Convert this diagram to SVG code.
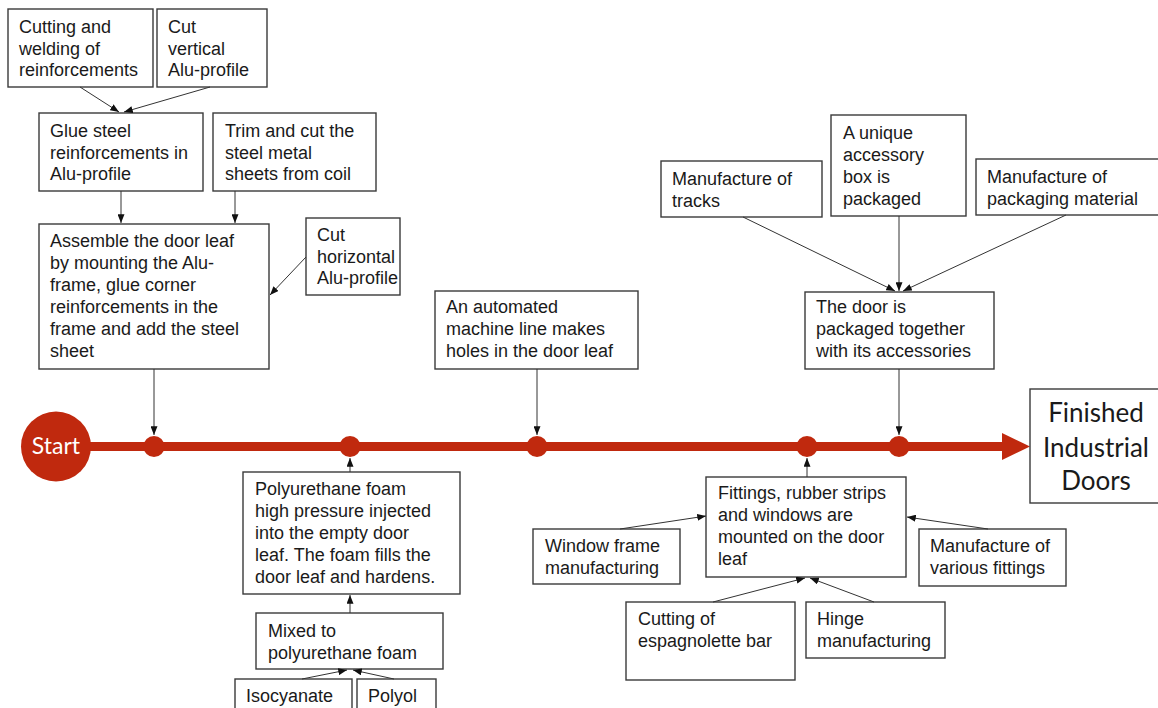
<svg xmlns="http://www.w3.org/2000/svg" width="1158" height="708" viewBox="0 0 1158 708">
<defs>
<marker id="ah" viewBox="0 0 10 8" refX="10" refY="4" markerWidth="9" markerHeight="7" markerUnits="userSpaceOnUse" orient="auto">
<path d="M0,0 L10,4 L0,8 Z" fill="#111"/>
</marker>
<style>
.box{fill:#fff;stroke:#3a3a3a;stroke-width:1.4}
.t{font-family:"Liberation Sans",Arial,sans-serif;font-size:18px;fill:#1a1a1a}
.c{stroke:#333;stroke-width:1;fill:none;marker-end:url(#ah)}
.red{fill:#C0290E}
.big{font-family:Lato,"Open Sans",sans-serif;font-size:26px;fill:#1a1a1a;text-anchor:middle}
</style>
</defs>
<rect width="1158" height="708" fill="#fff"/>

<g id="timeline">
<line x1="55" y1="446.5" x2="1004" y2="446.5" stroke="#C0290E" stroke-width="9"/>
<polygon class="red" points="1002,433 1030,446.5 1002,460"/>
<circle class="red" cx="154" cy="446.5" r="10.5"/>
<circle class="red" cx="350" cy="446.5" r="10.5"/>
<circle class="red" cx="537" cy="446.5" r="10.5"/>
<circle class="red" cx="807" cy="446.5" r="10.5"/>
<circle class="red" cx="899" cy="446.5" r="10.5"/>
</g>

<g id="start">
<circle class="red" cx="56" cy="446.5" r="35"/>
<text x="56" y="454" font-family="Lato,'Open Sans',sans-serif" font-size="23" fill="#fff" text-anchor="middle">Start</text>
</g>

<g id="n-cutweld">
<rect class="box" x="8" y="9" width="145" height="78"/>
<text class="t" x="19" y="33">Cutting and</text>
<text class="t" x="19" y="55">welding of</text>
<text class="t" x="19" y="76">reinforcements</text>
</g>
<g id="n-cutvert">
<rect class="box" x="157" y="9" width="110" height="78"/>
<text class="t" x="168" y="33">Cut</text>
<text class="t" x="168" y="55">vertical</text>
<text class="t" x="168" y="76">Alu-profile</text>
</g>
<g id="n-glue">
<rect class="box" x="39" y="113" width="164" height="78"/>
<text class="t" x="50" y="137">Glue steel</text>
<text class="t" x="50" y="159">reinforcements in</text>
<text class="t" x="50" y="180">Alu-profile</text>
</g>
<g id="n-trim">
<rect class="box" x="213" y="113" width="163" height="78"/>
<text class="t" x="225" y="137">Trim and cut the</text>
<text class="t" x="225" y="159">steel metal</text>
<text class="t" x="225" y="180">sheets from coil</text>
</g>
<g id="n-assemble">
<rect class="box" x="39" y="224" width="230" height="145"/>
<text class="t" x="50" y="247">Assemble the door leaf</text>
<text class="t" x="50" y="269">by mounting the Alu-</text>
<text class="t" x="50" y="291">frame, glue corner</text>
<text class="t" x="50" y="313">reinforcements in the</text>
<text class="t" x="50" y="335">frame and add the steel</text>
<text class="t" x="50" y="357">sheet</text>
</g>
<g id="n-cuthoriz">
<rect class="box" x="306" y="218" width="94" height="77"/>
<text class="t" x="317" y="241">Cut</text>
<text class="t" x="317" y="263">horizontal</text>
<text class="t" x="317" y="284">Alu-profile</text>
</g>
<g id="n-holes">
<rect class="box" x="435" y="291" width="203" height="78"/>
<text class="t" x="446" y="313">An automated</text>
<text class="t" x="446" y="335">machine line makes</text>
<text class="t" x="446" y="357">holes in the door leaf</text>
</g>
<g id="n-tracks">
<rect class="box" x="661" y="161" width="161" height="56"/>
<text class="t" x="672" y="185">Manufacture of</text>
<text class="t" x="672" y="207">tracks</text>
</g>
<g id="n-accbox">
<rect class="box" x="831" y="115" width="135" height="101"/>
<text class="t" x="843" y="139">A unique</text>
<text class="t" x="843" y="161">accessory</text>
<text class="t" x="843" y="183">box is</text>
<text class="t" x="843" y="205">packaged</text>
</g>
<g id="n-packmat">
<rect class="box" x="976" y="159" width="190" height="56"/>
<text class="t" x="987" y="183">Manufacture of</text>
<text class="t" x="987" y="205">packaging material</text>
</g>
<g id="n-packaged">
<rect class="box" x="805" y="292" width="189" height="77"/>
<text class="t" x="816" y="313">The door is</text>
<text class="t" x="816" y="335">packaged together</text>
<text class="t" x="816" y="357">with its accessories</text>
</g>
<g id="n-finished">
<rect class="box" x="1030" y="389" width="135" height="114"/>
<text class="big" x="1096" y="422">Finished</text>
<text class="big" x="1096" y="457">Industrial</text>
<text class="big" x="1096" y="490">Doors</text>
</g>
<g id="n-foam">
<rect class="box" x="243" y="472" width="217" height="122"/>
<text class="t" x="255" y="495">Polyurethane foam</text>
<text class="t" x="255" y="517">high pressure injected</text>
<text class="t" x="255" y="539">into the empty door</text>
<text class="t" x="255" y="561">leaf. The foam fills the</text>
<text class="t" x="255" y="583">door leaf and hardens.</text>
</g>
<g id="n-mixed">
<rect class="box" x="256" y="613" width="187" height="56"/>
<text class="t" x="268" y="637">Mixed to</text>
<text class="t" x="268" y="659">polyurethane foam</text>
</g>
<g id="n-iso">
<rect class="box" x="235" y="679" width="117" height="40"/>
<text class="t" x="246" y="702">Isocyanate</text>
</g>
<g id="n-polyol">
<rect class="box" x="357" y="679" width="79" height="40"/>
<text class="t" x="368" y="702">Polyol</text>
</g>
<g id="n-fittings">
<rect class="box" x="706" y="477" width="200" height="100"/>
<text class="t" x="718" y="499">Fittings, rubber strips</text>
<text class="t" x="718" y="521">and windows are</text>
<text class="t" x="718" y="543">mounted on the door</text>
<text class="t" x="718" y="565">leaf</text>
</g>
<g id="n-window">
<rect class="box" x="533" y="529" width="147" height="55"/>
<text class="t" x="545" y="552">Window frame</text>
<text class="t" x="545" y="574">manufacturing</text>
</g>
<g id="n-variousfit">
<rect class="box" x="919" y="529" width="147" height="57"/>
<text class="t" x="930" y="552">Manufacture of</text>
<text class="t" x="930" y="574">various fittings</text>
</g>
<g id="n-espag">
<rect class="box" x="626" y="602" width="169" height="78"/>
<text class="t" x="638" y="625">Cutting of</text>
<text class="t" x="638" y="647">espagnolette bar</text>
</g>
<g id="n-hinge">
<rect class="box" x="806" y="602" width="139" height="56"/>
<text class="t" x="817" y="625">Hinge</text>
<text class="t" x="817" y="647">manufacturing</text>
</g>

<g id="connectors">
<line class="c" x1="80" y1="87" x2="119" y2="112"/>
<line class="c" x1="210" y1="87" x2="124" y2="112"/>
<line class="c" x1="121" y1="191" x2="121" y2="223"/>
<line class="c" x1="235" y1="191" x2="235" y2="223"/>
<line class="c" x1="306" y1="257" x2="270" y2="295"/>
<line class="c" x1="154" y1="369" x2="154" y2="435"/>
<line class="c" x1="537" y1="369" x2="537" y2="435"/>
<line class="c" x1="899" y1="369" x2="899" y2="435"/>
<line class="c" x1="743" y1="217" x2="895" y2="291"/>
<line class="c" x1="899" y1="216" x2="899" y2="291"/>
<line class="c" x1="1066" y1="215" x2="903" y2="291"/>
<line class="c" x1="350" y1="472" x2="350" y2="458"/>
<line class="c" x1="350" y1="613" x2="350" y2="595"/>
<line class="c" x1="302" y1="679" x2="347" y2="670"/>
<line class="c" x1="394" y1="679" x2="353" y2="670"/>
<line class="c" x1="807" y1="477" x2="807" y2="458"/>
<line class="c" x1="620" y1="529" x2="706" y2="516"/>
<line class="c" x1="988" y1="529" x2="907" y2="517"/>
<line class="c" x1="713" y1="602" x2="805" y2="578"/>
<line class="c" x1="874" y1="602" x2="810" y2="578"/>
</g>
</svg>
